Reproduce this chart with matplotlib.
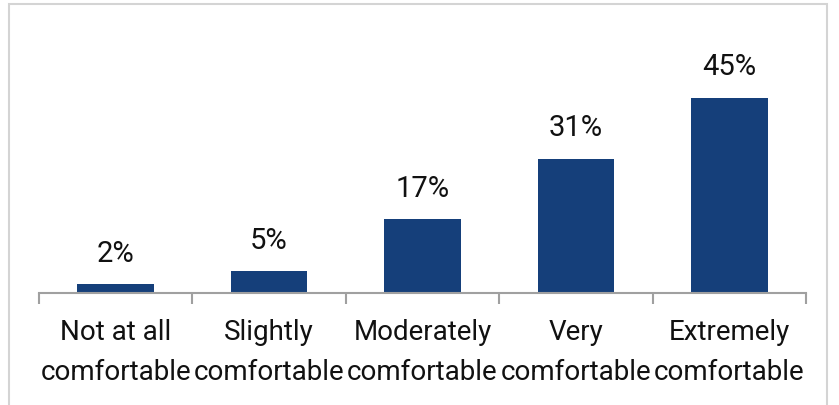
import matplotlib
matplotlib.use("Agg")
import matplotlib.pyplot as plt
from matplotlib.patches import Rectangle

categories = ["Not at all\ncomfortable", "Slightly\ncomfortable", "Moderately\ncomfortable",
              "Very\ncomfortable", "Extremely\ncomfortable"]
values = [2, 5, 17, 31, 45]
value_labels = ["2%", "5%", "17%", "31%", "45%"]

plt.rcParams["font.family"] = ["Roboto", "DejaVu Sans"]

W, H = 839, 405
fig = plt.figure(figsize=(W / 100, H / 100), dpi=100)

# light frame around the chart area
fig.patches.append(Rectangle((9 / W, -0.05), (827 - 9) / W, (H - 4) / H + 0.05,
                             transform=fig.transFigure, fill=False,
                             edgecolor="#d4d4d4", linewidth=1.5))

ax_left, ax_right = 39, 806
ax_bottom, ax_top = 293, 33
ax = fig.add_axes([ax_left / W, 1 - ax_bottom / H, (ax_right - ax_left) / W,
                   (ax_bottom - ax_top) / H])

x = list(range(len(values)))
ax.bar(x, values, width=0.5, color="#153f7a", zorder=2)
ax.set_xlim(-0.5, len(values) - 0.5)
ax.set_ylim(0, 60)

for xi, v, lab in zip(x, values, value_labels):
    ax.annotate(lab, (xi, v), xytext=(0, 12), textcoords="offset points",
                ha="center", va="bottom", fontsize=21, color="#111111")

for s in ["top", "right", "left"]:
    ax.spines[s].set_visible(False)
ax.spines["bottom"].set_color("#a0a0a0")
ax.spines["bottom"].set_linewidth(1.5)
ax.set_yticks([])

# boundary ticks between categories
ax.set_xticks([i - 0.5 for i in range(len(values) + 1)])
ax.set_xticklabels([])
ax.tick_params(axis="x", length=8, width=1.5, color="#a0a0a0", direction="out")
ax.set_xticks(x, minor=True)
ax.set_xticklabels(categories, minor=True, fontsize=20, color="#111111",
                   linespacing=1.6)
ax.tick_params(axis="x", which="minor", length=0, pad=19)

fig.savefig("out.png", dpi=100)
